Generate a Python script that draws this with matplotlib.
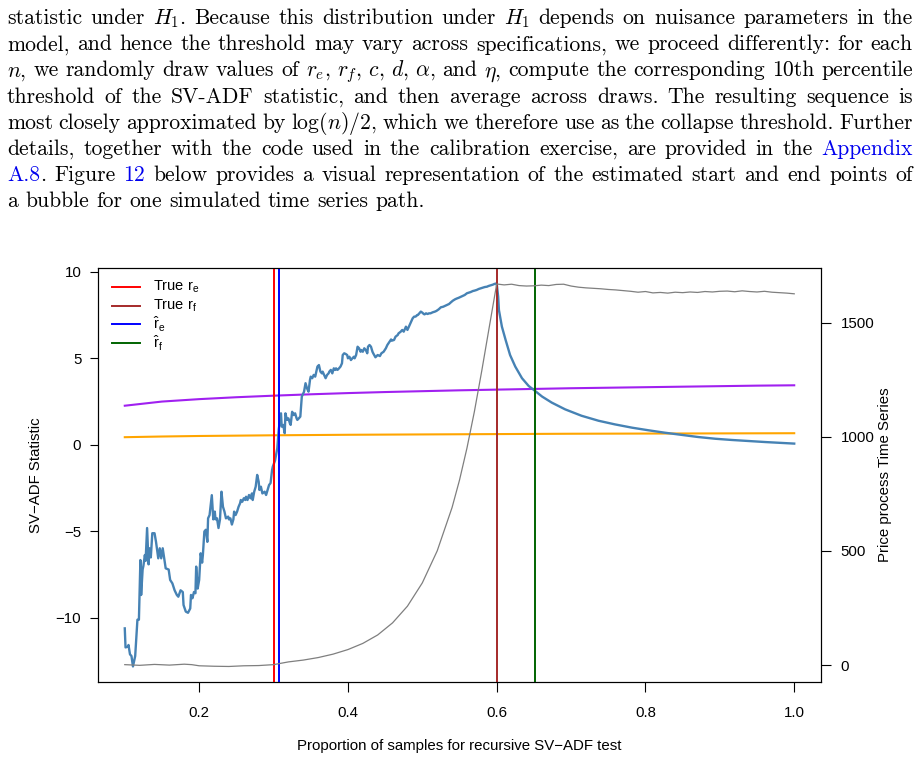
import re
import numpy as np
import matplotlib.pyplot as plt

plt.rcParams['font.family'] = 'Liberation Sans'
plt.rcParams['mathtext.fontset'] = 'custom'
plt.rcParams['mathtext.rm'] = 'Liberation Sans'
plt.rcParams['mathtext.it'] = 'Liberation Sans:italic'
plt.rcParams['mathtext.bf'] = 'Liberation Sans:bold'

# ---- paragraph above the figure ----
para = [
    r"statistic under $H_1$. Because this distribution under $H_1$ depends on nuisance parameters in the",
    r"model, and hence the threshold may vary across specifications, we proceed differently: for each",
    r"$n$, we randomly draw values of $r_e,\,r_f,\,c,\,d,\,\alpha$, and $\eta$, compute the corresponding 10th percentile",
    r"threshold of the SV-ADF statistic, and then average across draws. The resulting sequence is",
    r"most closely approximated by $\log(n)/2$, which we therefore use as the collapse threshold. Further",
    r"details, together with the code used in the calibration exercise, are provided in the {Appendix}",
    r"{A.8}. Figure {12} below provides a visual representation of the estimated start and end points of",
    r"a bubble for one simulated time series path.",
]

# ---- SV-ADF statistic path ----
stat_x = [0.100, 0.101, 0.104, 0.105, 0.107, 0.109, 0.111, 0.114, 0.117, 0.119,
          0.121, 0.122, 0.124, 0.125, 0.127, 0.128, 0.130, 0.132, 0.133, 0.135,
          0.137, 0.140, 0.142, 0.145, 0.147, 0.149, 0.151, 0.153, 0.155, 0.159,
          0.161, 0.164, 0.167, 0.170, 0.172, 0.175, 0.178, 0.179, 0.182, 0.185,
          0.188, 0.189, 0.191, 0.193, 0.195, 0.196, 0.198, 0.200, 0.202, 0.204,
          0.205, 0.207, 0.209, 0.211, 0.212, 0.214, 0.217, 0.219, 0.221, 0.222,
          0.224, 0.226, 0.228, 0.230, 0.232, 0.234, 0.236, 0.239, 0.240, 0.242,
          0.244, 0.246, 0.247, 0.249, 0.251, 0.253, 0.255, 0.256, 0.258, 0.260,
          0.262, 0.263, 0.265, 0.267, 0.269, 0.271, 0.272, 0.274, 0.276, 0.278,
          0.280, 0.281, 0.283, 0.285, 0.288, 0.290, 0.292, 0.294, 0.296, 0.298,
          0.299, 0.302, 0.305, 0.307, 0.310, 0.311, 0.313, 0.315, 0.316, 0.318,
          0.320, 0.322, 0.323, 0.325, 0.327, 0.329, 0.331, 0.332, 0.334, 0.336,
          0.338, 0.340, 0.341, 0.343, 0.345, 0.347, 0.349, 0.350, 0.352, 0.354,
          0.356, 0.357, 0.359, 0.361, 0.363, 0.365, 0.366, 0.368, 0.370, 0.372,
          0.374, 0.375, 0.377, 0.379, 0.381, 0.383, 0.384, 0.386, 0.388, 0.390,
          0.392, 0.393, 0.395, 0.397, 0.399, 0.400, 0.402, 0.404, 0.406, 0.408,
          0.409, 0.411, 0.413, 0.415, 0.417, 0.418, 0.420, 0.422, 0.424, 0.426,
          0.427, 0.429, 0.431, 0.433, 0.434, 0.437, 0.440, 0.443, 0.445, 0.448,
          0.451, 0.453, 0.456, 0.458, 0.459, 0.462, 0.464, 0.467, 0.468, 0.471,
          0.473, 0.475, 0.477, 0.478, 0.480, 0.482, 0.484, 0.486, 0.487, 0.489,
          0.491, 0.493, 0.494, 0.496, 0.498, 0.500, 0.502, 0.503, 0.505, 0.507,
          0.509, 0.511, 0.514, 0.517, 0.519, 0.522, 0.525, 0.528, 0.530, 0.533,
          0.536, 0.538, 0.541, 0.544, 0.546, 0.549, 0.552, 0.554, 0.557, 0.560,
          0.562, 0.565, 0.568, 0.570, 0.573, 0.576, 0.579, 0.581, 0.584, 0.587,
          0.589, 0.592, 0.595, 0.597, 0.600, 0.602, 0.603, 0.607, 0.612, 0.618,
          0.625, 0.634, 0.643, 0.650, 0.661, 0.674, 0.692, 0.714, 0.737, 0.759,
          0.782, 0.804, 0.826, 0.849, 0.871, 0.894, 0.916, 0.938, 0.961, 0.983,
          1.000]
stat_y = [-10.6, -11.7, -11.66, -11.56, -12.1, -12.2, -12.8, -12.2, -10.1, -10.1,
          -6.65, -8.67, -7.2, -7.0, -6.36, -6.7, -4.8, -6.9, -5.97, -6.5,
          -5.1, -5.1, -5.6, -6.55, -5.97, -6.55, -5.97, -6.55, -7.13, -7.2,
          -7.8, -8.0, -8.4, -8.67, -8.77, -8.4, -8.5, -9.25, -9.63, -9.7,
          -9.45, -8.67, -8.86, -8.5, -8.57, -7.03, -8.3, -7.8, -6.26, -6.8,
          -6.36, -5.0, -4.9, -5.6, -4.24, -4.05, -2.9, -4.3, -3.85, -4.3,
          -4.24, -4.8, -4.3, -2.7, -3.57, -3.85, -4.24, -4.14, -4.3, -4.24,
          -4.6, -4.3, -3.85, -4.05, -3.85, -3.57, -3.37, -3.18, -3.28, -3.08,
          -3.18, -2.99, -3.18, -2.89, -3.08, -2.8, -3.18, -2.7, -2.41, -1.73,
          -2.12, -2.6, -2.41, -2.8, -2.7, -2.89, -2.6, -2.31, -2.2, -1.45,
          -1.25, -0.9, -0.2, 0.9, 1.83, 1.06, 1.16, 0.68, 1.83, 1.45,
          1.54, 1.25, 1.16, 1.92, 1.73, 1.83, 1.54, 1.45, 1.54, 1.64,
          2.8, 2.99, 3.08, 3.57, 3.28, 3.08, 3.76, 3.95, 3.86, 4.05,
          3.95, 4.14, 4.53, 4.62, 4.24, 4.14, 4.24, 4.05, 3.86, 4.05,
          4.14, 4.24, 4.34, 4.14, 4.43, 4.34, 4.43, 4.34, 4.43, 4.53,
          4.72, 5.2, 5.3, 5.26, 5.2, 5.01, 5.1, 4.91, 5.01, 5.1,
          5.01, 5.2, 5.68, 5.59, 5.39, 5.49, 5.39, 5.59, 5.49, 5.3,
          5.68, 5.78, 5.68, 5.39, 5.3, 5.07, 5.2, 5.14, 5.3, 5.39,
          5.59, 5.78, 5.97, 6.1, 6.03, 6.07, 6.26, 6.36, 6.45, 6.55,
          6.65, 6.55, 6.74, 6.84, 6.65, 6.84, 7.03, 7.23, 7.32, 7.42,
          7.42, 7.51, 7.51, 7.61, 7.71, 7.65, 7.57, 7.55, 7.61, 7.57,
          7.61, 7.61, 7.67, 7.71, 7.75, 7.84, 7.96, 7.99, 8.03, 8.09,
          8.15, 8.23, 8.34, 8.42, 8.46, 8.51, 8.57, 8.61, 8.67, 8.77,
          8.8, 8.84, 8.9, 8.92, 8.96, 9.02, 9.06, 9.09, 9.13, 9.15,
          9.19, 9.23, 9.27, 9.31, 9.34, 8.57, 7.8, 6.84, 6.07, 5.2,
          4.53, 3.86, 3.41, 3.18, 2.8, 2.45, 2.06, 1.69, 1.4, 1.19,
          1.0, 0.85, 0.71, 0.58, 0.46, 0.36, 0.29, 0.23, 0.17, 0.12,
          0.08]

# ---- thresholds ----
thr_x = [0.10, 0.15, 0.20, 0.25, 0.30, 0.35, 0.40, 0.45, 0.50, 0.55,
         0.60, 0.65, 0.70, 0.75, 0.80, 0.85, 0.90, 0.95, 1.00]
purple_y = [2.27, 2.51, 2.65, 2.76, 2.85, 2.93, 3.00, 3.06, 3.11, 3.16,
            3.20, 3.24, 3.28, 3.31, 3.34, 3.37, 3.40, 3.43, 3.45]
orange_y = [0.45, 0.49, 0.52, 0.54, 0.56, 0.575, 0.59, 0.60, 0.61, 0.62,
            0.63, 0.64, 0.65, 0.655, 0.66, 0.665, 0.67, 0.675, 0.68]

# ---- price process (right axis) ----
price_x = [0.10, 0.12, 0.14, 0.16, 0.18, 0.19, 0.20, 0.22, 0.24, 0.26,
           0.28, 0.30, 0.31, 0.32, 0.34, 0.36, 0.38, 0.40, 0.42, 0.44,
           0.46, 0.48, 0.50, 0.52, 0.54, 0.55, 0.56, 0.57, 0.58, 0.59,
           0.60, 0.61, 0.62, 0.63, 0.64, 0.65, 0.66, 0.67, 0.68, 0.69,
           0.70, 0.71, 0.72, 0.73, 0.74, 0.75, 0.76, 0.77, 0.78, 0.79,
           0.80, 0.81, 0.82, 0.83, 0.84, 0.85, 0.86, 0.87, 0.88, 0.89,
           0.90, 0.91, 0.92, 0.93, 0.94, 0.95, 0.96, 0.97, 0.98, 0.99, 1.00]
price_y = [2, -1, 3, 0, 4, 2, -3, -5, -6, -3,
           -2, 2, 8, 14, 22, 33, 48, 68, 95, 132,
           185, 258, 360, 500, 690, 810, 950, 1110, 1290, 1480,
           1669, 1665, 1668, 1662, 1660, 1661, 1664, 1662, 1667, 1668,
           1660, 1655, 1652, 1650, 1648, 1645, 1643, 1640, 1637, 1633,
           1636, 1630, 1632, 1629, 1633, 1631, 1634, 1632, 1636, 1634,
           1637, 1638, 1635, 1639, 1636, 1634, 1637, 1633, 1631, 1629, 1626]

true_re, true_rf = 0.30, 0.60
hat_re, hat_rf = 0.307, 0.652

xticks = [0.2, 0.4, 0.6, 0.8, 1.0]
yticks = [-10, -5, 0, 5, 10]
ytick_labels = ['\u221210', '\u22125', '0', '5', '10']
pticks = [0, 500, 1000, 1500]

legend_labels = [r'True $\mathrm{r_e}$', r'True $\mathrm{r_f}$',
                 r'$\hat{\mathrm{r}}_\mathrm{e}$', r'$\hat{\mathrm{r}}_\mathrm{f}$']
legend_colors = ['red', '#A52A2A', 'blue', '#006400']

W, H = 920, 761
fig = plt.figure(figsize=(W / 100, H / 100), dpi=100)
renderer = fig.canvas.get_renderer()

# justified paragraph, word by word
fs_par = 15.6
left_px, right_px = 7, 913
base0, lead = 24, 26.2
for i, line in enumerate(para):
    y = 1 - (base0 + i * lead) / H
    words = []
    for w in line.split(' '):
        segs = []
        for s in re.split(r'(\{[^}]*\})', w):
            if not s:
                continue
            if s.startswith('{'):
                segs.append((s[1:-1], '#0000ee'))
            else:
                segs.append((s, 'black'))
        arts = []
        wid = 0
        for s, c in segs:
            t = fig.text(0, y, s, fontfamily='cmr10', math_fontfamily='cm',
                         fontsize=fs_par, color=c, va='baseline', ha='left')
            ww = t.get_window_extent(renderer).width
            arts.append((t, ww))
            wid += ww
        words.append((arts, wid))
    total = sum(wd for _, wd in words)
    if i < len(para) - 1:
        gap = (right_px - left_px - total) / (len(words) - 1)
    else:
        gap = fs_par * 100 / 72 * 0.333
    x = left_px
    for arts, wd in words:
        xx = x
        for t, ww in arts:
            t.set_x(xx / W)
            xx += ww
        x += wd + gap

# ---- plot ----
ax = fig.add_axes([98 / W, 1 - 682 / H, (821 - 98) / W, (682 - 268) / H])
ax.plot(stat_x, stat_y, color='#4682B4', lw=1.7, zorder=3)
ax.plot(thr_x, purple_y, color='#A020F0', lw=1.5, zorder=2)
ax.plot(thr_x, orange_y, color='#FFA500', lw=1.5, zorder=2)
ax.axvline(true_re, color='red', lw=1.4, zorder=4)
ax.axvline(true_rf, color='#A52A2A', lw=1.4, zorder=4)
ax.axvline(hat_re, color='blue', lw=1.4, zorder=4)
ax.axvline(hat_rf, color='#006400', lw=1.4, zorder=4)

ax.set_xlim(0.064, 1.036)
ax.set_ylim(-13.7, 10.23)
ax.set_xticks(xticks)
ax.set_xticklabels(['%.1f' % v for v in xticks])
ax.set_yticks(yticks)
ax.set_yticklabels(ytick_labels)
ax.tick_params(axis='x', direction='out', length=7, width=0.8, pad=10, labelsize=10.8)
ax.tick_params(axis='y', direction='out', length=6, width=0.8, pad=6, labelsize=10.8)
for sp in ax.spines.values():
    sp.set_linewidth(0.8)
ax.set_xlabel('Proportion of samples for recursive SV\u2212ADF test', fontsize=10.8, labelpad=14)
ax.set_ylabel('SV\u2212ADF Statistic', fontsize=10.8, labelpad=9)

# R-style legend (no box, evenly spaced rows)
for k, (lab, col) in enumerate(zip(legend_labels, legend_colors)):
    yy = 0.954 - k * 0.045
    ax.plot([0.0194, 0.0581], [yy, yy], color=col, lw=1.4, transform=ax.transAxes)
    ax.text(0.0761, yy, lab, transform=ax.transAxes, fontsize=10.5,
            va='center', ha='left')

ax2 = ax.twinx()
ax2.plot(price_x, price_y, color='#7F7F7F', lw=0.9)
ax2.set_ylim(-74, 1739)
ax2.set_yticks(pticks)
ax2.set_yticklabels([str(v) for v in pticks])
ax2.tick_params(axis='y', direction='out', length=7, width=0.8, pad=7, labelsize=10.8)
for sp in ax2.spines.values():
    sp.set_linewidth(0.8)
ax2.set_ylabel('Price process Time Series', fontsize=10.8, labelpad=3)

fig.savefig('out.png', dpi=100)
